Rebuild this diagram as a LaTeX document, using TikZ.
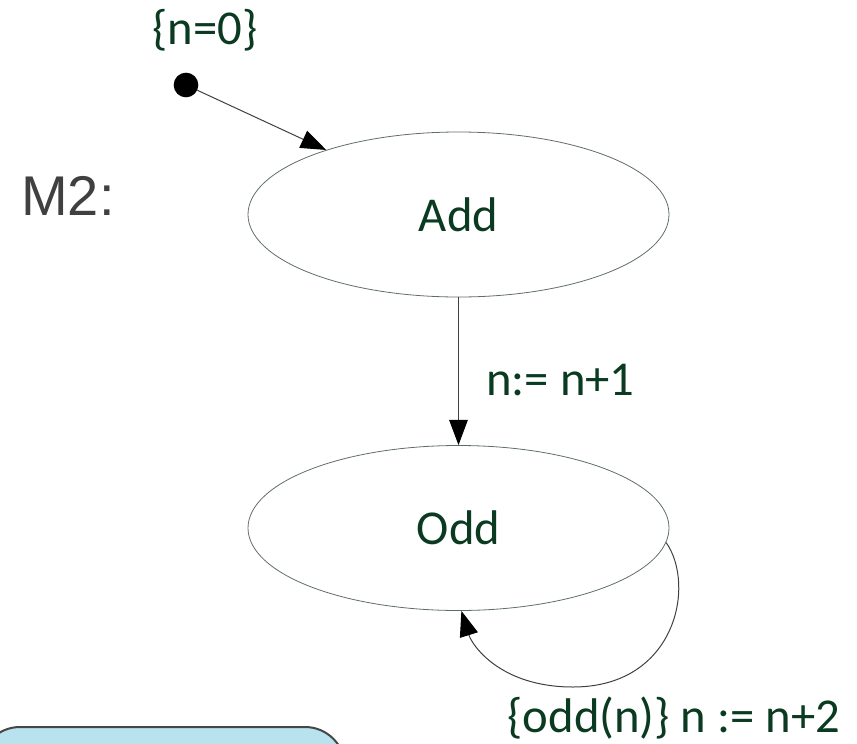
\documentclass[tikz,border=0pt]{standalone}
\usepackage{fontspec}
\setmainfont{Carlito}
\newfontfamily\arialfont{Liberation Sans}
\usetikzlibrary{arrows.meta,shapes.geometric}
\definecolor{txtgreen}{RGB}{10,58,32}
\definecolor{edgegray}{RGB}{95,110,100}
\definecolor{boxblue}{RGB}{184,227,238}
\definecolor{boxborder}{RGB}{70,70,70}
\definecolor{mgray}{RGB}{64,64,64}
\tikzset{
  state/.style={ellipse, draw=edgegray, line width=0.6pt, minimum width=315.75pt, minimum height=123.75pt, inner sep=0pt, text=txtgreen, font=\fontsize{36.5}{42}\selectfont},
  lbl/.style={text=txtgreen, font=\fontsize{36.5}{42}\selectfont, inner sep=0pt},
  arr/.style={draw=black!75, line width=0.75pt, -{Triangle[length=19pt,width=14pt,color=black]}},
}
\begin{document}
\begin{tikzpicture}[x=0.75pt,y=-0.75pt]
\useasboundingbox (0,0) rectangle (857,743);
% blue box
\begin{scope}
\clip (0,0) rectangle (857,743);
\draw[fill=boxblue, draw=boxborder, line width=1.5pt, rounded corners=30] (-20,727) -- (345,727) -- (345,790) -- (-20,790) -- cycle;
\end{scope}
\node[text=mgray, font=\arialfont\fontsize{42}{48}\selectfont, inner sep=0pt] (m2) at (68,196) {M2:};
\node[lbl] (init) at (205,30) {\{n=0\}};
\node[circle, fill=black, minimum size=18.5pt, inner sep=0pt] (dot) at (186,85) {};
\node[state] (add) at (458.5,214.5) {Add};
\node[state] (odd) at (458.5,528) {Odd};
\draw[arr] (dot) -- (add.154);
\draw[arr] (add.south) -- (odd.north);
\node[lbl, anchor=west] (l1) at (486,380) {n:= n+1};
\coordinate (loopbot) at (573,687);
\draw[arr] (odd.-4) .. controls (696,585) and (676,687) .. (loopbot) .. controls (500,687) and (472,645) .. (odd.-88);
\node[lbl] (l2) at (674,718) {\{odd(n)\} n := n+2};
\end{tikzpicture}
\end{document}
